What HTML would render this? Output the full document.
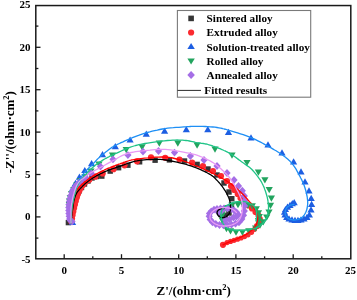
<!DOCTYPE html>
<html><head><meta charset="utf-8"><style>html,body{margin:0;padding:0;background:#fff;}svg{display:block;will-change:transform;}</style></head>
<body><svg width="357" height="300" viewBox="0 0 357 300">
<rect width="357" height="300" fill="#fff"/>
<g><rect x="65.7" y="219.9" width="5.4" height="5.4" fill="#353535"/><rect x="67.3" y="216.3" width="5.4" height="5.4" fill="#353535"/><rect x="68.3" y="212.3" width="5.4" height="5.4" fill="#353535"/><rect x="69.3" y="208.3" width="5.4" height="5.4" fill="#353535"/><rect x="70.3" y="204.3" width="5.4" height="5.4" fill="#353535"/><rect x="71.3" y="200.3" width="5.4" height="5.4" fill="#353535"/><rect x="72.8" y="196.3" width="5.4" height="5.4" fill="#353535"/><rect x="74.3" y="192.3" width="5.4" height="5.4" fill="#353535"/><rect x="76.3" y="188.3" width="5.4" height="5.4" fill="#353535"/><rect x="78.8" y="184.8" width="5.4" height="5.4" fill="#353535"/><rect x="81.8" y="181.3" width="5.4" height="5.4" fill="#353535"/><rect x="85.3" y="178.3" width="5.4" height="5.4" fill="#353535"/><rect x="89.3" y="175.3" width="5.4" height="5.4" fill="#353535"/><rect x="93.8" y="173.8" width="5.4" height="5.4" fill="#353535"/><rect x="99.1" y="173.4" width="5.4" height="5.4" fill="#353535"/><rect x="107.5" y="168.4" width="5.4" height="5.4" fill="#353535"/><rect x="115.9" y="165.0" width="5.4" height="5.4" fill="#353535"/><rect x="125.2" y="162.5" width="5.4" height="5.4" fill="#353535"/><rect x="136.9" y="159.1" width="5.4" height="5.4" fill="#353535"/><rect x="152.4" y="157.5" width="5.4" height="5.4" fill="#353535"/><rect x="166.7" y="157.2" width="5.4" height="5.4" fill="#353535"/><rect x="181.8" y="158.3" width="5.4" height="5.4" fill="#353535"/><rect x="194.4" y="161.7" width="5.4" height="5.4" fill="#353535"/><rect x="205.3" y="166.3" width="5.4" height="5.4" fill="#353535"/><rect x="214.3" y="172.3" width="5.4" height="5.4" fill="#353535"/><rect x="221.3" y="180.3" width="5.4" height="5.4" fill="#353535"/><rect x="226.3" y="189.3" width="5.4" height="5.4" fill="#353535"/><rect x="229.1" y="196.0" width="5.4" height="5.4" fill="#353535"/><rect x="228.8" y="205.3" width="5.4" height="5.4" fill="#353535"/><rect x="226.3" y="210.3" width="5.4" height="5.4" fill="#353535"/><rect x="222.3" y="212.6" width="5.4" height="5.4" fill="#353535"/><rect x="218.3" y="211.8" width="5.4" height="5.4" fill="#353535"/><circle cx="71.5" cy="222.0" r="3.1" fill="#fb2a30"/><circle cx="72.0" cy="218.5" r="3.1" fill="#fb2a30"/><circle cx="72.6" cy="215.0" r="3.1" fill="#fb2a30"/><circle cx="73.3" cy="211.5" r="3.1" fill="#fb2a30"/><circle cx="74.1" cy="208.0" r="3.1" fill="#fb2a30"/><circle cx="74.9" cy="204.5" r="3.1" fill="#fb2a30"/><circle cx="75.8" cy="201.0" r="3.1" fill="#fb2a30"/><circle cx="76.8" cy="197.5" r="3.1" fill="#fb2a30"/><circle cx="78.0" cy="194.0" r="3.1" fill="#fb2a30"/><circle cx="79.4" cy="190.8" r="3.1" fill="#fb2a30"/><circle cx="81.0" cy="187.8" r="3.1" fill="#fb2a30"/><circle cx="82.9" cy="185.0" r="3.1" fill="#fb2a30"/><circle cx="85.0" cy="182.5" r="3.1" fill="#fb2a30"/><circle cx="89.3" cy="179.8" r="3.1" fill="#fb2a30"/><circle cx="95.3" cy="176.7" r="3.1" fill="#fb2a30"/><circle cx="102.7" cy="173.5" r="3.1" fill="#fb2a30"/><circle cx="113.5" cy="169.2" r="3.1" fill="#fb2a30"/><circle cx="124.5" cy="165.3" r="3.1" fill="#fb2a30"/><circle cx="137.0" cy="161.3" r="3.1" fill="#fb2a30"/><circle cx="151.0" cy="157.3" r="3.1" fill="#fb2a30"/><circle cx="165.2" cy="157.8" r="3.1" fill="#fb2a30"/><circle cx="179.5" cy="159.5" r="3.1" fill="#fb2a30"/><circle cx="192.1" cy="162.6" r="3.1" fill="#fb2a30"/><circle cx="203.0" cy="166.0" r="3.1" fill="#fb2a30"/><circle cx="213.0" cy="171.0" r="3.1" fill="#fb2a30"/><circle cx="221.0" cy="176.0" r="3.1" fill="#fb2a30"/><circle cx="227.0" cy="181.0" r="3.1" fill="#fb2a30"/><circle cx="231.0" cy="186.0" r="3.1" fill="#fb2a30"/><circle cx="234.3" cy="190.0" r="3.1" fill="#fb2a30"/><circle cx="237.7" cy="194.0" r="3.1" fill="#fb2a30"/><circle cx="240.5" cy="198.0" r="3.1" fill="#fb2a30"/><circle cx="244.0" cy="202.0" r="3.1" fill="#fb2a30"/><circle cx="248.0" cy="205.3" r="3.1" fill="#fb2a30"/><circle cx="252.0" cy="208.5" r="3.1" fill="#fb2a30"/><circle cx="255.5" cy="212.0" r="3.1" fill="#fb2a30"/><circle cx="258.5" cy="215.5" r="3.1" fill="#fb2a30"/><circle cx="259.8" cy="219.0" r="3.1" fill="#fb2a30"/><circle cx="259.0" cy="222.5" r="3.1" fill="#fb2a30"/><circle cx="257.0" cy="226.0" r="3.1" fill="#fb2a30"/><circle cx="254.5" cy="229.3" r="2.6" fill="#fb2a30"/><circle cx="251.5" cy="232.3" r="2.6" fill="#fb2a30"/><circle cx="248.0" cy="234.8" r="2.6" fill="#fb2a30"/><circle cx="244.5" cy="236.6" r="2.6" fill="#fb2a30"/><circle cx="241.0" cy="238.0" r="2.6" fill="#fb2a30"/><circle cx="237.5" cy="239.2" r="2.6" fill="#fb2a30"/><circle cx="234.0" cy="240.3" r="2.6" fill="#fb2a30"/><circle cx="230.5" cy="241.4" r="2.6" fill="#fb2a30"/><circle cx="227.0" cy="242.6" r="2.6" fill="#fb2a30"/><circle cx="223.0" cy="244.8" r="3.1" fill="#fb2a30"/><path d="M72.6,218.9 L76.2,225.1 L69.0,225.1Z" fill="#1d5ee2"/><path d="M72.5,185.3 L76.1,191.5 L68.9,191.5Z" fill="#1d5ee2"/><path d="M75.5,179.8 L79.1,186.0 L71.9,186.0Z" fill="#1d5ee2"/><path d="M79.4,173.5 L83.0,179.7 L75.8,179.7Z" fill="#1d5ee2"/><path d="M84.8,166.9 L88.4,173.1 L81.2,173.1Z" fill="#1d5ee2"/><path d="M91.6,160.1 L95.2,166.3 L88.0,166.3Z" fill="#1d5ee2"/><path d="M102.5,151.0 L106.1,157.2 L98.9,157.2Z" fill="#1d5ee2"/><path d="M115.3,143.0 L118.9,149.2 L111.7,149.2Z" fill="#1d5ee2"/><path d="M130.1,136.4 L133.7,142.6 L126.5,142.6Z" fill="#1d5ee2"/><path d="M146.3,130.6 L149.9,136.8 L142.7,136.8Z" fill="#1d5ee2"/><path d="M164.6,127.6 L168.2,133.8 L161.0,133.8Z" fill="#1d5ee2"/><path d="M186.3,126.0 L189.9,132.2 L182.7,132.2Z" fill="#1d5ee2"/><path d="M207.8,126.0 L211.4,132.2 L204.2,132.2Z" fill="#1d5ee2"/><path d="M228.5,128.7 L232.1,134.9 L224.9,134.9Z" fill="#1d5ee2"/><path d="M251.0,134.3 L254.6,140.5 L247.4,140.5Z" fill="#1d5ee2"/><path d="M268.0,141.3 L271.6,147.5 L264.4,147.5Z" fill="#1d5ee2"/><path d="M282.0,149.3 L285.6,155.5 L278.4,155.5Z" fill="#1d5ee2"/><path d="M293.6,158.3 L297.2,164.5 L290.0,164.5Z" fill="#1d5ee2"/><path d="M301.0,168.3 L304.6,174.5 L297.4,174.5Z" fill="#1d5ee2"/><path d="M305.0,178.3 L308.6,184.5 L301.4,184.5Z" fill="#1d5ee2"/><path d="M309.0,187.3 L312.6,193.5 L305.4,193.5Z" fill="#1d5ee2"/><path d="M311.2,194.8 L314.8,201.0 L307.6,201.0Z" fill="#1d5ee2"/><path d="M311.6,200.8 L315.2,207.0 L308.0,207.0Z" fill="#1d5ee2"/><path d="M311.0,206.3 L314.6,212.5 L307.4,212.5Z" fill="#1d5ee2"/><path d="M309.4,211.3 L313.0,217.5 L305.8,217.5Z" fill="#1d5ee2"/><path d="M307.0,213.8 L310.6,220.0 L303.4,220.0Z" fill="#1d5ee2"/><path d="M304.0,215.3 L307.6,221.5 L300.4,221.5Z" fill="#1d5ee2"/><path d="M301.0,216.3 L304.6,222.5 L297.4,222.5Z" fill="#1d5ee2"/><path d="M298.0,216.8 L301.6,223.0 L294.4,223.0Z" fill="#1d5ee2"/><path d="M295.0,216.8 L298.6,223.0 L291.4,223.0Z" fill="#1d5ee2"/><path d="M292.0,216.3 L295.6,222.5 L288.4,222.5Z" fill="#1d5ee2"/><path d="M289.0,215.3 L292.6,221.5 L285.4,221.5Z" fill="#1d5ee2"/><path d="M286.7,213.8 L290.3,220.0 L283.1,220.0Z" fill="#1d5ee2"/><path d="M285.0,211.3 L288.6,217.5 L281.4,217.5Z" fill="#1d5ee2"/><path d="M284.5,208.6 L288.1,214.8 L280.9,214.8Z" fill="#1d5ee2"/><path d="M285.5,205.9 L289.1,212.1 L281.9,212.1Z" fill="#1d5ee2"/><path d="M287.5,203.6 L291.1,209.8 L283.9,209.8Z" fill="#1d5ee2"/><path d="M290.0,201.8 L293.6,208.0 L286.4,208.0Z" fill="#1d5ee2"/><path d="M292.3,200.1 L295.9,206.3 L288.7,206.3Z" fill="#1d5ee2"/><path d="M294.2,199.1 L297.8,205.3 L290.6,205.3Z" fill="#1d5ee2"/><path d="M70.0,215.7 L73.6,209.5 L66.4,209.5Z" fill="#22a45e"/><path d="M69.5,211.7 L73.1,205.5 L65.9,205.5Z" fill="#22a45e"/><path d="M69.3,208.2 L72.9,202.0 L65.7,202.0Z" fill="#22a45e"/><path d="M69.5,204.7 L73.1,198.5 L65.9,198.5Z" fill="#22a45e"/><path d="M70.2,201.2 L73.8,195.0 L66.6,195.0Z" fill="#22a45e"/><path d="M71.6,197.2 L75.2,191.0 L68.0,191.0Z" fill="#22a45e"/><path d="M73.8,193.2 L77.4,187.0 L70.2,187.0Z" fill="#22a45e"/><path d="M76.8,188.7 L80.4,182.5 L73.2,182.5Z" fill="#22a45e"/><path d="M80.5,184.2 L84.1,178.0 L76.9,178.0Z" fill="#22a45e"/><path d="M85.0,180.2 L88.6,174.0 L81.4,174.0Z" fill="#22a45e"/><path d="M91.0,174.7 L94.6,168.5 L87.4,168.5Z" fill="#22a45e"/><path d="M99.0,167.7 L102.6,161.5 L95.4,161.5Z" fill="#22a45e"/><path d="M112.5,158.7 L116.1,152.5 L108.9,152.5Z" fill="#22a45e"/><path d="M126.2,153.2 L129.8,147.0 L122.6,147.0Z" fill="#22a45e"/><path d="M142.1,150.4 L145.7,144.2 L138.5,144.2Z" fill="#22a45e"/><path d="M159.3,146.8 L162.9,140.6 L155.7,140.6Z" fill="#22a45e"/><path d="M177.8,146.8 L181.4,140.6 L174.2,140.6Z" fill="#22a45e"/><path d="M197.1,148.8 L200.7,142.6 L193.5,142.6Z" fill="#22a45e"/><path d="M215.0,152.7 L218.6,146.5 L211.4,146.5Z" fill="#22a45e"/><path d="M232.0,158.7 L235.6,152.5 L228.4,152.5Z" fill="#22a45e"/><path d="M247.0,166.1 L250.6,159.9 L243.4,159.9Z" fill="#22a45e"/><path d="M258.4,175.7 L262.0,169.5 L254.8,169.5Z" fill="#22a45e"/><path d="M264.9,183.4 L268.5,177.2 L261.3,177.2Z" fill="#22a45e"/><path d="M269.2,193.2 L272.8,187.0 L265.6,187.0Z" fill="#22a45e"/><path d="M271.4,201.7 L275.0,195.5 L267.8,195.5Z" fill="#22a45e"/><path d="M270.5,209.0 L274.1,202.8 L266.9,202.8Z" fill="#22a45e"/><path d="M269.0,215.7 L272.6,209.5 L265.4,209.5Z" fill="#22a45e"/><path d="M266.7,220.7 L270.3,214.5 L263.1,214.5Z" fill="#22a45e"/><path d="M263.3,225.4 L266.9,219.2 L259.7,219.2Z" fill="#22a45e"/><path d="M260.0,228.7 L263.6,222.5 L256.4,222.5Z" fill="#22a45e"/><path d="M255.6,231.7 L259.2,225.5 L252.0,225.5Z" fill="#22a45e"/><path d="M248.8,234.4 L252.4,228.2 L245.2,228.2Z" fill="#22a45e"/><path d="M242.4,235.7 L246.0,229.5 L238.8,229.5Z" fill="#22a45e"/><path d="M236.0,235.7 L239.6,229.5 L232.4,229.5Z" fill="#22a45e"/><path d="M230.5,234.4 L234.1,228.2 L226.9,228.2Z" fill="#22a45e"/><path d="M226.5,232.2 L230.1,226.0 L222.9,226.0Z" fill="#22a45e"/><path d="M224.0,228.7 L227.6,222.5 L220.4,222.5Z" fill="#22a45e"/><path d="M222.5,224.2 L226.1,218.0 L218.9,218.0Z" fill="#22a45e"/><path d="M222.0,219.2 L225.6,213.0 L218.4,213.0Z" fill="#22a45e"/><path d="M223.5,214.7 L227.1,208.5 L219.9,208.5Z" fill="#22a45e"/><path d="M227.0,211.2 L230.6,205.0 L223.4,205.0Z" fill="#22a45e"/><path d="M232.0,208.7 L235.6,202.5 L228.4,202.5Z" fill="#22a45e"/><path d="M238.0,208.2 L241.6,202.0 L234.4,202.0Z" fill="#22a45e"/><path d="M243.0,208.2 L246.6,202.0 L239.4,202.0Z" fill="#22a45e"/><path d="M248.0,208.7 L251.6,202.5 L244.4,202.5Z" fill="#22a45e"/><path d="M252.3,209.5 L255.9,203.3 L248.7,203.3Z" fill="#22a45e"/><path d="M256.3,212.4 L259.9,206.2 L252.7,206.2Z" fill="#22a45e"/><path d="M258.5,216.4 L262.1,210.2 L254.9,210.2Z" fill="#22a45e"/><path d="M259.3,220.2 L262.9,214.0 L255.7,214.0Z" fill="#22a45e"/><path d="M258.5,224.2 L262.1,218.0 L254.9,218.0Z" fill="#22a45e"/><path d="M72.0,217.7 L75.6,221.6 L72.0,225.5 L68.4,221.6Z" fill="#a56ee6"/><path d="M70.3,216.6 L73.9,220.5 L70.3,224.4 L66.7,220.5Z" fill="#a56ee6"/><path d="M69.7,215.1 L73.3,219.0 L69.7,222.9 L66.1,219.0Z" fill="#a56ee6"/><path d="M69.2,212.4 L72.8,216.3 L69.2,220.2 L65.6,216.3Z" fill="#a56ee6"/><path d="M68.9,209.6 L72.5,213.5 L68.9,217.4 L65.3,213.5Z" fill="#a56ee6"/><path d="M68.8,206.6 L72.4,210.5 L68.8,214.4 L65.2,210.5Z" fill="#a56ee6"/><path d="M68.8,203.6 L72.4,207.5 L68.8,211.4 L65.2,207.5Z" fill="#a56ee6"/><path d="M69.0,200.6 L72.6,204.5 L69.0,208.4 L65.4,204.5Z" fill="#a56ee6"/><path d="M69.4,197.6 L73.0,201.5 L69.4,205.4 L65.8,201.5Z" fill="#a56ee6"/><path d="M70.0,194.6 L73.6,198.5 L70.0,202.4 L66.4,198.5Z" fill="#a56ee6"/><path d="M70.8,191.6 L74.4,195.5 L70.8,199.4 L67.2,195.5Z" fill="#a56ee6"/><path d="M71.9,188.6 L75.5,192.5 L71.9,196.4 L68.3,192.5Z" fill="#a56ee6"/><path d="M73.3,185.8 L76.9,189.7 L73.3,193.6 L69.7,189.7Z" fill="#a56ee6"/><path d="M75.0,183.1 L78.6,187.0 L75.0,190.9 L71.4,187.0Z" fill="#a56ee6"/><path d="M77.0,180.6 L80.6,184.5 L77.0,188.4 L73.4,184.5Z" fill="#a56ee6"/><path d="M79.2,178.3 L82.8,182.2 L79.2,186.1 L75.6,182.2Z" fill="#a56ee6"/><path d="M82.0,175.9 L85.6,179.8 L82.0,183.7 L78.4,179.8Z" fill="#a56ee6"/><path d="M85.6,173.7 L89.2,177.6 L85.6,181.5 L82.0,177.6Z" fill="#a56ee6"/><path d="M91.2,169.3 L94.8,173.2 L91.2,177.1 L87.6,173.2Z" fill="#a56ee6"/><path d="M100.5,162.7 L104.1,166.6 L100.5,170.5 L96.9,166.6Z" fill="#a56ee6"/><path d="M113.0,155.4 L116.6,159.3 L113.0,163.2 L109.4,159.3Z" fill="#a56ee6"/><path d="M127.9,151.2 L131.5,155.1 L127.9,159.0 L124.3,155.1Z" fill="#a56ee6"/><path d="M143.0,147.7 L146.6,151.6 L143.0,155.5 L139.4,151.6Z" fill="#a56ee6"/><path d="M158.5,147.1 L162.1,151.0 L158.5,154.9 L154.9,151.0Z" fill="#a56ee6"/><path d="M174.5,148.7 L178.1,152.6 L174.5,156.5 L170.9,152.6Z" fill="#a56ee6"/><path d="M190.4,152.1 L194.0,156.0 L190.4,159.9 L186.8,156.0Z" fill="#a56ee6"/><path d="M204.0,156.1 L207.6,160.0 L204.0,163.9 L200.4,160.0Z" fill="#a56ee6"/><path d="M217.0,162.1 L220.6,166.0 L217.0,169.9 L213.4,166.0Z" fill="#a56ee6"/><path d="M227.0,169.1 L230.6,173.0 L227.0,176.9 L223.4,173.0Z" fill="#a56ee6"/><path d="M234.0,176.1 L237.6,180.0 L234.0,183.9 L230.4,180.0Z" fill="#a56ee6"/><path d="M238.5,182.1 L242.1,186.0 L238.5,189.9 L234.9,186.0Z" fill="#a56ee6"/><path d="M242.3,186.8 L245.9,190.7 L242.3,194.6 L238.7,190.7Z" fill="#a56ee6"/><path d="M244.3,192.1 L247.9,196.0 L244.3,199.9 L240.7,196.0Z" fill="#a56ee6"/><path d="M244.6,197.1 L248.2,201.0 L244.6,204.9 L241.0,201.0Z" fill="#a56ee6"/><path d="M244.6,202.1 L248.2,206.0 L244.6,209.9 L241.0,206.0Z" fill="#a56ee6"/><path d="M244.3,207.1 L247.9,211.0 L244.3,214.9 L240.7,211.0Z" fill="#a56ee6"/><path d="M243.5,211.4 L247.1,215.3 L243.5,219.2 L239.9,215.3Z" fill="#a56ee6"/><path d="M241.8,215.1 L245.4,219.0 L241.8,222.9 L238.2,219.0Z" fill="#a56ee6"/><path d="M239.0,218.4 L242.6,222.3 L239.0,226.2 L235.4,222.3Z" fill="#a56ee6"/><path d="M235.5,219.8 L239.1,223.7 L235.5,227.6 L231.9,223.7Z" fill="#a56ee6"/><path d="M231.5,220.8 L235.1,224.7 L231.5,228.6 L227.9,224.7Z" fill="#a56ee6"/><path d="M227.5,221.3 L231.1,225.2 L227.5,229.1 L223.9,225.2Z" fill="#a56ee6"/><path d="M223.5,221.4 L227.1,225.3 L223.5,229.2 L219.9,225.3Z" fill="#a56ee6"/><path d="M219.5,221.1 L223.1,225.0 L219.5,228.9 L215.9,225.0Z" fill="#a56ee6"/><path d="M215.8,220.1 L219.4,224.0 L215.8,227.9 L212.2,224.0Z" fill="#a56ee6"/><path d="M212.5,218.4 L216.1,222.3 L212.5,226.2 L208.9,222.3Z" fill="#a56ee6"/><path d="M210.2,215.7 L213.8,219.6 L210.2,223.5 L206.6,219.6Z" fill="#a56ee6"/><path d="M209.2,212.4 L212.8,216.3 L209.2,220.2 L205.6,216.3Z" fill="#a56ee6"/><path d="M209.5,209.6 L213.1,213.5 L209.5,217.4 L205.9,213.5Z" fill="#a56ee6"/><path d="M211.3,207.4 L214.9,211.3 L211.3,215.2 L207.7,211.3Z" fill="#a56ee6"/><path d="M214.0,205.8 L217.6,209.7 L214.0,213.6 L210.4,209.7Z" fill="#a56ee6"/><path d="M217.0,205.1 L220.6,209.0 L217.0,212.9 L213.4,209.0Z" fill="#a56ee6"/><path d="M220.5,204.6 L224.1,208.5 L220.5,212.4 L216.9,208.5Z" fill="#a56ee6"/><path d="M224.0,204.4 L227.6,208.3 L224.0,212.2 L220.4,208.3Z" fill="#a56ee6"/><path d="M227.5,204.5 L231.1,208.4 L227.5,212.3 L223.9,208.4Z" fill="#a56ee6"/><path d="M231.0,205.1 L234.6,209.0 L231.0,212.9 L227.4,209.0Z" fill="#a56ee6"/><path d="M234.0,206.4 L237.6,210.3 L234.0,214.2 L230.4,210.3Z" fill="#a56ee6"/><path d="M236.5,208.4 L240.1,212.3 L236.5,216.2 L232.9,212.3Z" fill="#a56ee6"/><path d="M238.0,210.6 L241.6,214.5 L238.0,218.4 L234.4,214.5Z" fill="#a56ee6"/><path d="M236.5,212.6 L240.1,216.5 L236.5,220.4 L232.9,216.5Z" fill="#a56ee6"/><path d="M233.5,213.6 L237.1,217.5 L233.5,221.4 L229.9,217.5Z" fill="#a56ee6"/><path d="M229.5,215.4 L233.1,219.3 L229.5,223.2 L225.9,219.3Z" fill="#a56ee6"/><path d="M225.5,216.1 L229.1,220.0 L225.5,223.9 L221.9,220.0Z" fill="#a56ee6"/><path d="M218.5,208.6 L222.1,212.5 L218.5,216.4 L214.9,212.5Z" fill="#a56ee6"/><path d="M221.5,206.9 L225.1,210.8 L221.5,214.7 L217.9,210.8Z" fill="#a56ee6"/></g>
<g><path d="M71.0,223.0 L71.1,222.3 L71.2,221.3 L71.3,220.2 L71.4,218.9 L71.6,217.6 L71.7,216.3 L71.9,215.1 L72.0,214.0 L72.1,213.0 L72.3,212.1 L72.4,211.2 L72.5,210.3 L72.6,209.5 L72.8,208.6 L72.9,207.8 L73.0,207.0 L73.1,206.2 L73.2,205.4 L73.3,204.6 L73.4,203.9 L73.5,203.1 L73.6,202.4 L73.7,201.7 L73.8,201.0 L74.0,200.3 L74.1,199.7 L74.3,199.0 L74.5,198.4 L74.7,197.8 L74.9,197.2 L75.1,196.6 L75.3,196.0 L75.5,195.4 L75.7,194.9 L76.0,194.4 L76.2,193.9 L76.5,193.4 L76.7,192.9 L77.0,192.5 L77.3,192.0 L77.6,191.6 L77.9,191.2 L78.2,190.9 L78.5,190.5 L78.8,190.2 L79.1,189.8 L79.5,189.4 L80.0,188.9 L80.5,188.4 L81.1,187.7 L81.7,187.1 L82.4,186.4 L83.0,185.7 L83.7,185.0 L84.4,184.4 L85.0,183.8 L85.6,183.3 L86.2,182.7 L86.9,182.2 L87.5,181.7 L88.1,181.3 L88.8,180.8 L89.4,180.3 L90.0,179.9 L90.6,179.5 L91.2,179.0 L91.9,178.6 L92.5,178.2 L93.1,177.8 L93.8,177.4 L94.4,177.1 L95.0,176.7 L95.6,176.3 L96.2,176.0 L96.9,175.6 L97.5,175.3 L98.1,175.0 L98.8,174.6 L99.4,174.3 L100.0,174.0 L100.6,173.7 L101.2,173.4 L101.9,173.1 L102.5,172.8 L103.1,172.5 L103.8,172.2 L104.4,171.9 L105.0,171.6 L105.6,171.3 L106.1,171.1 L106.7,170.9 L107.2,170.7 L107.8,170.4 L108.4,170.2 L109.1,169.9 L110.0,169.6 L111.0,169.3 L112.1,168.9 L113.4,168.5 L114.7,168.1 L116.0,167.6 L117.4,167.2 L118.7,166.7 L120.0,166.3 L121.2,165.9 L122.5,165.4 L123.8,164.9 L125.0,164.4 L126.2,164.0 L127.5,163.5 L128.8,163.1 L130.0,162.7 L131.2,162.3 L132.3,162.0 L133.3,161.7 L134.4,161.4 L135.5,161.1 L136.8,160.9 L138.3,160.6 L140.0,160.4 L142.0,160.2 L144.3,159.9 L146.8,159.7 L149.4,159.5 L152.1,159.4 L154.8,159.3 L157.5,159.3 L160.2,159.4 L162.9,159.7 L165.7,160.0 L168.6,160.5 L171.4,161.0 L174.3,161.6 L177.0,162.2 L179.6,162.8 L182.0,163.4 L184.2,163.9 L186.3,164.5 L188.2,165.1 L190.0,165.6 L191.7,166.2 L193.5,166.8 L195.2,167.5 L197.0,168.2 L198.8,168.9 L200.7,169.7 L202.6,170.6 L204.4,171.4 L206.2,172.3 L207.9,173.2 L209.5,174.1 L211.0,175.0 L212.3,175.9 L213.5,176.8 L214.5,177.8 L215.5,178.7 L216.4,179.7 L217.3,180.6 L218.2,181.6 L219.0,182.5 L219.8,183.4 L220.6,184.4 L221.3,185.3 L222.0,186.2 L222.7,187.1 L223.3,188.0 L223.9,188.9 L224.5,189.8 L225.1,190.7 L225.6,191.5 L226.1,192.4 L226.6,193.2 L227.0,194.0 L227.4,194.9 L227.8,195.7 L228.2,196.5 L228.5,197.3 L228.9,198.1 L229.2,198.9 L229.4,199.7 L229.7,200.5 L229.9,201.3 L230.0,202.2 L230.2,203.0 L230.3,203.9 L230.4,204.8 L230.5,205.7 L230.5,206.6 L230.6,207.5 L230.5,208.4 L230.5,209.2 L230.4,210.0 L230.3,210.7 L230.1,211.3 L229.9,211.9 L229.7,212.5 L229.4,213.1 L229.1,213.6 L228.8,214.0 L228.5,214.5 L228.1,214.9 L227.7,215.4 L227.3,215.7 L226.9,216.1 L226.4,216.4 L225.9,216.7 L225.5,217.0 L225.0,217.2 L224.5,217.4 L224.0,217.5 L223.5,217.6 L223.0,217.7 L222.5,217.7 L222.0,217.7 L221.5,217.6 L221.0,217.5 L220.5,217.3 L220.1,217.1 L219.6,216.8 L219.2,216.5 L218.8,216.1 L218.4,215.7 L218.1,215.4 L217.8,215.0 L217.6,214.6 L217.4,214.2 L217.2,213.8 L217.1,213.4 L217.1,213.0 L217.1,212.6 L217.1,212.2 L217.2,211.8 L217.4,211.4 L217.6,211.1 L217.9,210.7 L218.2,210.3 L218.6,210.0 L219.0,209.7 L219.4,209.4 L219.8,209.2 L220.3,209.0 L220.8,208.9 L221.4,208.8 L222.1,208.7 L222.7,208.6 L223.2,208.6 L223.7,208.5 L224.0,208.5" fill="none" stroke="#000000" stroke-width="1.3" stroke-linejoin="round" stroke-linecap="round"/><path d="M71.0,223.0 L71.1,222.3 L71.1,221.3 L71.2,220.2 L71.3,218.9 L71.4,217.6 L71.5,216.3 L71.6,215.1 L71.7,214.0 L71.8,213.0 L71.9,212.1 L72.0,211.2 L72.1,210.3 L72.1,209.5 L72.2,208.6 L72.3,207.8 L72.4,207.0 L72.5,206.2 L72.6,205.4 L72.6,204.7 L72.7,203.9 L72.8,203.2 L72.9,202.5 L73.0,201.7 L73.1,201.0 L73.2,200.2 L73.4,199.5 L73.5,198.7 L73.7,197.9 L73.8,197.1 L74.0,196.4 L74.2,195.7 L74.4,195.0 L74.6,194.4 L74.8,193.8 L75.1,193.2 L75.3,192.6 L75.6,192.1 L75.9,191.5 L76.2,191.0 L76.5,190.5 L76.8,190.0 L77.1,189.6 L77.4,189.1 L77.8,188.7 L78.2,188.3 L78.6,187.8 L79.0,187.3 L79.5,186.8 L80.1,186.2 L80.7,185.6 L81.4,184.9 L82.1,184.3 L82.9,183.6 L83.6,182.9 L84.3,182.3 L85.0,181.7 L85.6,181.2 L86.3,180.7 L86.9,180.2 L87.5,179.7 L88.1,179.3 L88.8,178.9 L89.4,178.4 L90.0,178.0 L90.6,177.6 L91.2,177.2 L91.9,176.7 L92.5,176.3 L93.1,175.9 L93.8,175.6 L94.4,175.2 L95.0,174.8 L95.6,174.4 L96.2,174.1 L96.9,173.7 L97.5,173.4 L98.1,173.1 L98.8,172.7 L99.4,172.4 L100.0,172.1 L100.6,171.8 L101.2,171.5 L101.9,171.2 L102.5,170.9 L103.1,170.6 L103.8,170.3 L104.4,170.0 L105.0,169.7 L105.6,169.4 L106.1,169.2 L106.7,168.9 L107.2,168.7 L107.8,168.4 L108.4,168.2 L109.1,167.8 L110.0,167.5 L111.0,167.1 L112.2,166.7 L113.5,166.2 L114.9,165.7 L116.2,165.2 L117.6,164.7 L118.9,164.2 L120.0,163.8 L121.0,163.4 L121.9,163.1 L122.8,162.8 L123.6,162.4 L124.4,162.1 L125.2,161.9 L126.1,161.6 L127.0,161.3 L127.9,161.0 L128.6,160.8 L129.3,160.5 L130.0,160.3 L130.9,160.1 L132.0,159.8 L133.5,159.6 L135.4,159.3 L137.9,159.0 L141.0,158.6 L144.4,158.2 L148.1,157.9 L151.8,157.5 L155.4,157.2 L158.8,157.1 L161.8,157.0 L164.4,157.1 L166.7,157.2 L168.8,157.4 L170.8,157.7 L172.7,158.0 L174.6,158.5 L176.6,159.0 L178.7,159.5 L180.9,160.1 L183.2,160.8 L185.5,161.6 L187.8,162.5 L190.1,163.4 L192.4,164.3 L194.7,165.3 L197.0,166.2 L199.3,167.2 L201.6,168.2 L203.9,169.2 L206.3,170.3 L208.6,171.3 L210.8,172.4 L212.9,173.5 L215.0,174.5 L217.0,175.5 L218.9,176.5 L220.7,177.5 L222.4,178.5 L224.1,179.4 L225.8,180.4 L227.4,181.5 L229.0,182.5 L230.5,183.6 L232.0,184.7 L233.5,185.8 L234.9,187.0 L236.2,188.1 L237.5,189.3 L238.8,190.4 L240.0,191.5 L241.2,192.6 L242.3,193.7 L243.4,194.8 L244.4,195.9 L245.4,197.0 L246.3,198.0 L247.2,199.0 L248.0,200.0 L248.8,200.9 L249.5,201.8 L250.2,202.6 L250.8,203.4 L251.4,204.2 L251.9,205.0 L252.5,205.7 L253.0,206.5 L253.5,207.3 L254.0,208.0 L254.5,208.8 L255.0,209.6 L255.4,210.3 L255.8,211.0 L256.2,211.8 L256.5,212.5 L256.8,213.2 L257.0,213.9 L257.2,214.6 L257.4,215.2 L257.5,215.9 L257.6,216.6 L257.7,217.3 L257.7,218.0 L257.7,218.7 L257.6,219.5 L257.5,220.3 L257.4,221.0 L257.2,221.8 L257.0,222.6 L256.8,223.3 L256.5,224.0 L256.2,224.7 L255.9,225.3 L255.5,225.9 L255.1,226.5 L254.7,227.1 L254.2,227.7 L253.6,228.4 L253.0,229.0 L252.3,229.7 L251.5,230.4 L250.7,231.1 L249.8,231.8 L248.9,232.5 L248.0,233.2 L247.0,233.9 L246.0,234.5 L245.0,235.1 L243.9,235.7 L242.8,236.2 L241.6,236.8 L240.5,237.3 L239.3,237.8 L238.1,238.3 L237.0,238.8 L235.8,239.3 L234.7,239.8 L233.4,240.3 L232.2,240.8 L231.1,241.2 L230.0,241.7 L228.9,242.1 L228.0,242.5 L227.1,242.9 L226.4,243.2 L225.6,243.6 L224.9,243.9 L224.3,244.2 L223.8,244.4 L223.4,244.6 L223.0,244.8" fill="none" stroke="#ff0000" stroke-width="1.3" stroke-linejoin="round" stroke-linecap="round"/><path d="M71.0,223.0 L71.0,222.1 L71.1,220.9 L71.1,219.5 L71.2,217.9 L71.2,216.2 L71.3,214.7 L71.3,213.2 L71.4,212.0 L71.5,211.0 L71.5,210.2 L71.5,209.6 L71.6,208.9 L71.7,208.3 L71.7,207.7 L71.9,206.9 L72.0,206.0 L72.2,204.9 L72.4,203.8 L72.6,202.5 L72.9,201.2 L73.2,199.9 L73.4,198.6 L73.7,197.3 L74.0,196.0 L74.3,194.8 L74.6,193.5 L74.9,192.2 L75.2,190.9 L75.6,189.7 L75.9,188.5 L76.2,187.5 L76.5,186.5 L76.8,185.7 L77.1,184.9 L77.3,184.3 L77.6,183.7 L77.8,183.2 L78.1,182.7 L78.4,182.1 L78.7,181.5 L79.0,180.9 L79.4,180.2 L79.7,179.5 L80.1,178.9 L80.5,178.2 L80.9,177.6 L81.3,176.9 L81.7,176.3 L82.1,175.7 L82.5,175.1 L83.0,174.5 L83.4,174.0 L83.8,173.4 L84.3,172.9 L84.7,172.3 L85.2,171.8 L85.7,171.3 L86.1,170.7 L86.6,170.2 L87.1,169.7 L87.6,169.2 L88.1,168.7 L88.5,168.3 L89.0,167.8 L89.4,167.4 L89.8,167.0 L90.2,166.6 L90.6,166.3 L91.1,165.9 L91.5,165.5 L92.0,165.0 L92.5,164.5 L93.1,163.9 L93.7,163.2 L94.4,162.4 L95.1,161.7 L95.8,160.9 L96.5,160.1 L97.3,159.3 L98.0,158.6 L98.7,157.9 L99.5,157.2 L100.2,156.6 L101.0,155.9 L101.7,155.3 L102.5,154.6 L103.2,154.0 L104.0,153.4 L104.8,152.8 L105.5,152.2 L106.3,151.6 L107.1,151.0 L107.8,150.4 L108.6,149.8 L109.3,149.3 L110.0,148.8 L110.6,148.4 L111.1,148.0 L111.6,147.6 L112.0,147.3 L112.5,147.0 L113.2,146.6 L114.0,146.1 L115.0,145.6 L116.3,145.0 L117.8,144.2 L119.4,143.5 L121.1,142.6 L123.0,141.8 L124.9,140.9 L126.8,140.1 L128.7,139.3 L130.6,138.5 L132.5,137.7 L134.5,136.9 L136.5,136.1 L138.5,135.4 L140.6,134.6 L142.8,133.9 L145.0,133.2 L147.3,132.5 L149.7,131.9 L152.2,131.2 L154.7,130.6 L157.3,130.1 L159.8,129.5 L162.4,129.0 L165.0,128.6 L167.7,128.2 L170.4,127.9 L173.3,127.7 L176.1,127.4 L178.9,127.3 L181.5,127.1 L183.9,126.9 L186.0,126.8 L187.7,126.7 L189.1,126.6 L190.2,126.5 L191.1,126.4 L192.1,126.3 L193.1,126.3 L194.4,126.3 L196.0,126.3 L198.0,126.3 L200.2,126.4 L202.6,126.4 L205.2,126.5 L207.8,126.6 L210.3,126.8 L212.8,127.0 L215.0,127.2 L217.0,127.5 L218.9,127.8 L220.7,128.1 L222.4,128.5 L224.1,129.0 L225.9,129.4 L227.9,130.0 L230.0,130.6 L232.4,131.3 L234.9,132.1 L237.6,132.9 L240.4,133.8 L243.2,134.7 L245.9,135.7 L248.5,136.6 L251.0,137.6 L253.4,138.6 L255.6,139.7 L257.9,140.8 L260.1,141.9 L262.2,143.0 L264.2,144.1 L266.1,145.2 L268.0,146.2 L269.8,147.2 L271.5,148.1 L273.1,149.1 L274.6,150.0 L276.1,150.8 L277.5,151.7 L278.8,152.5 L280.0,153.3 L281.1,154.1 L282.2,154.8 L283.1,155.5 L284.0,156.1 L284.8,156.7 L285.6,157.3 L286.3,157.9 L287.0,158.5 L287.6,159.0 L288.2,159.5 L288.7,160.0 L289.2,160.4 L289.6,160.8 L290.1,161.3 L290.5,161.8 L291.0,162.3 L291.5,162.9 L292.0,163.5 L292.5,164.1 L293.0,164.8 L293.6,165.4 L294.0,166.1 L294.5,166.8 L295.0,167.5 L295.4,168.2 L295.9,168.9 L296.3,169.6 L296.7,170.4 L297.1,171.1 L297.5,171.9 L297.9,172.7 L298.3,173.5 L298.7,174.3 L299.2,175.2 L299.7,176.0 L300.2,176.9 L300.6,177.8 L301.1,178.7 L301.6,179.6 L302.0,180.5 L302.4,181.4 L302.8,182.3 L303.2,183.3 L303.6,184.2 L304.0,185.1 L304.3,186.1 L304.7,187.0 L305.0,188.0 L305.3,189.0 L305.6,190.0 L305.9,191.0 L306.1,192.0 L306.4,193.1 L306.6,194.1 L306.8,195.0 L307.0,196.0 L307.2,196.9 L307.3,197.8 L307.4,198.7 L307.5,199.6 L307.6,200.5 L307.7,201.3 L307.7,202.2 L307.7,203.0 L307.7,203.8 L307.6,204.7 L307.5,205.5 L307.4,206.4 L307.3,207.2 L307.2,208.0 L307.0,208.8 L306.8,209.5 L306.6,210.2 L306.4,210.9 L306.1,211.5 L305.8,212.2 L305.5,212.8 L305.2,213.4 L304.9,213.9 L304.5,214.5 L304.1,215.1 L303.7,215.6 L303.3,216.1 L302.8,216.7 L302.3,217.2 L301.8,217.6 L301.2,218.0 L300.6,218.4 L299.9,218.7 L299.1,219.0 L298.3,219.3 L297.4,219.6 L296.5,219.7 L295.7,219.9 L294.8,220.0 L294.0,220.0 L293.2,220.0 L292.4,219.9 L291.6,219.7 L290.8,219.5 L290.0,219.3 L289.3,219.0 L288.6,218.7 L288.0,218.3 L287.5,217.9 L287.0,217.3 L286.5,216.8 L286.1,216.1 L285.8,215.5 L285.5,214.8 L285.3,214.2 L285.2,213.5 L285.1,212.8 L285.2,212.1 L285.3,211.4 L285.4,210.6 L285.6,209.9 L285.9,209.2 L286.2,208.6 L286.5,208.0 L286.9,207.5 L287.3,207.1 L287.7,206.7 L288.2,206.3 L288.8,206.0 L289.3,205.7 L289.8,205.4 L290.3,205.2 L290.8,205.0 L291.3,204.9 L291.9,204.8 L292.4,204.7 L292.9,204.6 L293.3,204.6 L293.7,204.5 L294.0,204.5" fill="none" stroke="#1e8ff5" stroke-width="1.3" stroke-linejoin="round" stroke-linecap="round"/><path d="M71.0,223.0 L71.0,222.1 L71.1,220.9 L71.2,219.5 L71.3,217.9 L71.3,216.2 L71.4,214.7 L71.5,213.2 L71.6,212.0 L71.7,211.0 L71.7,210.2 L71.8,209.6 L71.9,208.9 L71.9,208.3 L72.0,207.7 L72.1,206.9 L72.3,206.0 L72.5,204.9 L72.7,203.8 L72.9,202.5 L73.2,201.2 L73.4,199.9 L73.7,198.6 L74.0,197.3 L74.3,196.0 L74.6,194.8 L75.0,193.5 L75.4,192.2 L75.8,190.9 L76.2,189.7 L76.5,188.5 L76.9,187.5 L77.3,186.5 L77.6,185.7 L78.0,184.9 L78.3,184.3 L78.6,183.7 L78.9,183.1 L79.3,182.6 L79.6,182.1 L80.0,181.5 L80.4,180.9 L80.8,180.3 L81.2,179.8 L81.7,179.2 L82.1,178.7 L82.6,178.1 L83.0,177.5 L83.5,177.0 L84.0,176.4 L84.4,175.9 L84.9,175.3 L85.4,174.8 L85.9,174.3 L86.3,173.7 L86.8,173.2 L87.3,172.7 L87.8,172.2 L88.2,171.7 L88.7,171.3 L89.1,170.8 L89.6,170.3 L90.1,169.9 L90.5,169.4 L91.0,169.0 L91.5,168.5 L92.0,168.1 L92.5,167.7 L93.0,167.2 L93.5,166.8 L94.0,166.3 L94.5,165.9 L95.0,165.5 L95.5,165.1 L95.9,164.7 L96.4,164.4 L96.8,164.0 L97.3,163.7 L97.8,163.3 L98.4,162.9 L99.0,162.5 L99.7,162.0 L100.5,161.5 L101.4,161.0 L102.3,160.4 L103.2,159.9 L104.2,159.3 L105.1,158.8 L106.0,158.3 L106.8,157.9 L107.5,157.5 L108.2,157.1 L108.9,156.8 L109.6,156.4 L110.5,155.9 L111.6,155.4 L113.0,154.8 L114.7,154.0 L116.7,153.1 L118.9,152.1 L121.2,151.0 L123.6,149.9 L126.0,148.9 L128.3,148.0 L130.4,147.2 L132.3,146.5 L134.0,146.0 L135.6,145.5 L137.2,145.1 L138.9,144.7 L140.7,144.3 L142.7,143.9 L145.0,143.5 L147.7,143.1 L150.8,142.6 L154.1,142.1 L157.6,141.7 L161.0,141.2 L164.4,140.8 L167.5,140.5 L170.3,140.3 L172.7,140.1 L175.0,140.1 L177.1,140.0 L179.0,140.1 L180.8,140.1 L182.6,140.2 L184.3,140.4 L186.0,140.5 L187.7,140.7 L189.4,141.0 L190.9,141.3 L192.5,141.6 L194.0,141.9 L195.4,142.3 L196.7,142.6 L198.0,142.8 L199.2,143.0 L200.3,143.1 L201.3,143.3 L202.2,143.4 L203.2,143.5 L204.1,143.6 L205.0,143.8 L206.0,144.0 L207.0,144.2 L208.0,144.5 L209.0,144.8 L210.0,145.1 L211.0,145.4 L212.0,145.7 L213.0,146.1 L214.0,146.4 L215.0,146.8 L216.0,147.1 L217.0,147.5 L218.0,147.9 L219.0,148.3 L220.0,148.7 L221.0,149.2 L222.0,149.6 L223.0,150.0 L224.0,150.5 L225.0,150.9 L226.0,151.4 L226.9,151.8 L228.0,152.4 L229.0,152.9 L230.0,153.5 L231.1,154.2 L232.2,154.9 L233.3,155.7 L234.5,156.5 L235.6,157.3 L236.7,158.1 L237.7,158.9 L238.7,159.6 L239.6,160.2 L240.4,160.8 L241.2,161.4 L242.0,162.0 L242.7,162.5 L243.5,163.0 L244.2,163.6 L245.0,164.2 L245.8,164.8 L246.6,165.4 L247.5,165.9 L248.3,166.5 L249.1,167.1 L250.0,167.8 L250.8,168.5 L251.7,169.3 L252.6,170.2 L253.5,171.2 L254.4,172.3 L255.3,173.4 L256.3,174.6 L257.1,175.7 L258.0,176.8 L258.7,177.8 L259.4,178.8 L260.0,179.7 L260.6,180.6 L261.1,181.4 L261.6,182.3 L262.1,183.2 L262.5,184.1 L263.0,185.0 L263.4,186.0 L263.9,186.9 L264.3,187.9 L264.6,188.9 L265.0,190.0 L265.4,191.0 L265.7,192.0 L266.0,193.0 L266.3,194.0 L266.6,195.0 L266.9,196.0 L267.2,197.1 L267.4,198.1 L267.6,199.1 L267.8,200.0 L268.0,201.0 L268.1,201.9 L268.3,202.8 L268.4,203.7 L268.4,204.6 L268.5,205.4 L268.5,206.3 L268.5,207.1 L268.5,208.0 L268.5,208.9 L268.4,209.8 L268.3,210.6 L268.2,211.5 L268.1,212.4 L267.9,213.3 L267.7,214.1 L267.5,215.0 L267.2,215.8 L267.0,216.7 L266.7,217.5 L266.4,218.3 L266.0,219.1 L265.6,219.9 L265.1,220.7 L264.5,221.5 L263.8,222.3 L263.1,223.1 L262.4,223.9 L261.5,224.6 L260.6,225.4 L259.7,226.1 L258.6,226.7 L257.5,227.3 L256.3,227.8 L254.9,228.2 L253.5,228.6 L251.9,229.0 L250.4,229.3 L248.9,229.6 L247.4,229.8 L246.0,230.0 L244.7,230.2 L243.3,230.3 L242.0,230.4 L240.8,230.4 L239.5,230.4 L238.3,230.4 L237.1,230.4 L236.0,230.3 L234.9,230.2 L233.9,230.2 L232.9,230.0 L231.9,229.9 L231.0,229.8 L230.1,229.6 L229.3,229.3 L228.5,229.0 L227.8,228.6 L227.1,228.2 L226.5,227.7 L225.9,227.2 L225.4,226.7 L224.9,226.1 L224.4,225.6 L224.0,225.0 L223.6,224.4 L223.2,223.8 L222.9,223.2 L222.6,222.6 L222.3,222.0 L222.1,221.3 L221.9,220.7 L221.7,220.0 L221.5,219.3 L221.3,218.6 L221.2,217.8 L221.1,217.0 L221.0,216.3 L220.9,215.5 L220.9,214.7 L221.0,214.0 L221.1,213.3 L221.2,212.5 L221.4,211.8 L221.6,211.1 L221.9,210.4 L222.2,209.7 L222.6,209.1 L223.0,208.5 L223.5,207.9 L224.0,207.4 L224.6,206.9 L225.2,206.5 L225.8,206.0 L226.5,205.6 L227.3,205.2 L228.0,204.8 L228.8,204.4 L229.6,204.0 L230.4,203.6 L231.3,203.2 L232.2,202.8 L233.1,202.5 L234.1,202.2 L235.0,202.0 L236.0,201.8 L237.0,201.7 L238.0,201.6 L239.1,201.5 L240.1,201.4 L241.1,201.4 L242.1,201.5 L243.0,201.5 L243.8,201.6 L244.7,201.7 L245.4,201.8 L246.2,202.0 L246.9,202.2 L247.6,202.4 L248.3,202.7 L249.0,203.0 L249.7,203.4 L250.5,203.8 L251.2,204.2 L252.0,204.7 L252.7,205.2 L253.4,205.7 L254.0,206.3 L254.5,207.0 L255.0,207.7 L255.4,208.5 L255.7,209.4 L256.0,210.3 L256.2,211.2 L256.4,212.2 L256.6,213.1 L256.7,214.0 L256.7,214.9 L256.7,215.9 L256.6,216.9 L256.5,217.9 L256.3,218.9 L256.2,219.7 L256.1,220.5 L256.0,221.0" fill="none" stroke="#1fc487" stroke-width="1.3" stroke-linejoin="round" stroke-linecap="round"/><path d="M71.0,223.0 L71.0,222.3 L71.0,221.4 L70.9,220.2 L70.9,219.0 L70.9,217.7 L70.9,216.4 L70.9,215.1 L70.9,214.0 L70.9,213.0 L70.9,212.0 L70.9,211.0 L71.0,210.1 L71.0,209.1 L71.1,208.1 L71.2,207.1 L71.3,206.0 L71.5,204.8 L71.6,203.6 L71.9,202.4 L72.1,201.1 L72.3,199.8 L72.6,198.5 L72.9,197.2 L73.2,196.0 L73.5,194.8 L73.9,193.5 L74.2,192.2 L74.6,191.0 L75.0,189.7 L75.4,188.6 L75.8,187.5 L76.2,186.5 L76.6,185.6 L77.0,184.8 L77.4,184.1 L77.8,183.5 L78.2,182.9 L78.6,182.3 L79.1,181.8 L79.5,181.3 L79.9,180.8 L80.4,180.4 L80.8,180.0 L81.3,179.7 L81.8,179.4 L82.3,179.0 L82.8,178.7 L83.3,178.3 L83.8,177.9 L84.4,177.4 L85.0,176.9 L85.6,176.4 L86.2,176.0 L86.8,175.5 L87.4,175.0 L88.0,174.6 L88.6,174.2 L89.1,173.8 L89.6,173.5 L90.1,173.1 L90.7,172.8 L91.2,172.4 L91.8,172.1 L92.5,171.7 L93.2,171.3 L93.8,171.0 L94.5,170.7 L95.2,170.3 L95.9,169.9 L96.8,169.5 L97.8,168.9 L99.0,168.3 L100.4,167.5 L102.0,166.7 L103.7,165.7 L105.5,164.7 L107.4,163.6 L109.3,162.6 L111.2,161.6 L113.0,160.6 L114.7,159.7 L116.4,158.7 L118.1,157.7 L119.8,156.8 L121.5,155.9 L123.2,155.1 L125.1,154.3 L127.0,153.6 L129.0,153.0 L131.2,152.5 L133.4,152.1 L135.6,151.7 L137.9,151.4 L140.3,151.1 L142.6,150.9 L145.0,150.6 L147.4,150.3 L149.9,150.1 L152.3,149.8 L154.9,149.6 L157.4,149.4 L160.0,149.3 L162.6,149.3 L165.2,149.4 L167.9,149.6 L170.7,149.9 L173.6,150.3 L176.5,150.8 L179.4,151.3 L182.1,151.8 L184.7,152.3 L187.0,152.8 L189.0,153.2 L190.8,153.6 L192.4,153.9 L193.9,154.3 L195.4,154.7 L196.8,155.1 L198.3,155.7 L200.0,156.3 L201.8,157.0 L203.6,157.8 L205.5,158.6 L207.4,159.6 L209.4,160.5 L211.3,161.6 L213.2,162.8 L215.0,164.0 L216.8,165.4 L218.7,166.9 L220.6,168.5 L222.4,170.2 L224.2,171.9 L225.9,173.6 L227.5,175.3 L229.0,177.0 L230.3,178.6 L231.5,180.3 L232.6,182.0 L233.6,183.7 L234.5,185.3 L235.4,187.0 L236.2,188.5 L237.0,190.0 L237.8,191.4 L238.5,192.8 L239.1,194.1 L239.7,195.4 L240.2,196.6 L240.7,197.8 L241.1,198.9 L241.5,200.0 L241.8,201.0 L242.0,201.9 L242.1,202.8 L242.2,203.6 L242.3,204.4 L242.3,205.2 L242.3,206.1 L242.3,207.0 L242.3,208.0 L242.3,209.0 L242.2,210.0 L242.2,211.0 L242.1,212.1 L241.9,213.1 L241.7,214.1 L241.5,215.0 L241.2,215.9 L240.9,216.8 L240.5,217.6 L240.1,218.4 L239.7,219.2 L239.1,219.9 L238.6,220.6 L238.0,221.3 L237.3,221.9 L236.6,222.5 L235.9,223.0 L235.1,223.5 L234.2,223.9 L233.3,224.3 L232.4,224.7 L231.5,225.0 L230.5,225.3 L229.5,225.5 L228.4,225.7 L227.3,225.9 L226.2,226.0 L225.1,226.0 L224.0,226.0 L223.0,226.0 L222.0,225.9 L221.0,225.8 L220.0,225.6 L219.0,225.3 L218.1,225.1 L217.2,224.7 L216.3,224.4 L215.5,224.0 L214.7,223.6 L214.0,223.1 L213.2,222.5 L212.5,221.9 L211.9,221.3 L211.3,220.7 L210.9,220.1 L210.5,219.5 L210.2,218.9 L210.1,218.3 L210.0,217.6 L210.0,217.0 L210.0,216.3 L210.1,215.7 L210.3,215.1 L210.5,214.5 L210.8,213.9 L211.1,213.4 L211.5,212.9 L211.9,212.3 L212.4,211.8 L212.9,211.4 L213.4,210.9 L214.0,210.5 L214.6,210.1 L215.2,209.7 L215.8,209.4 L216.5,209.0 L217.2,208.7 L217.9,208.4 L218.7,208.2 L219.5,208.0 L220.4,207.9 L221.3,207.7 L222.2,207.7 L223.2,207.6 L224.2,207.6 L225.2,207.7 L226.1,207.7 L227.0,207.8 L227.8,207.9 L228.7,208.1 L229.5,208.2 L230.2,208.5 L231.0,208.7 L231.7,208.9 L232.4,209.2 L233.0,209.5 L233.6,209.8 L234.1,210.2 L234.6,210.7 L235.1,211.1 L235.6,211.5 L235.9,211.9 L236.2,212.3 L236.5,212.5" fill="none" stroke="#e99af4" stroke-width="1.3" stroke-linejoin="round" stroke-linecap="round"/></g>
<g><rect x="35.8" y="5.55" width="315" height="253.25" fill="none" stroke="#1a1a1a" stroke-width="1.5"/><line x1="64.2" y1="258.8" x2="64.2" y2="254.2" stroke="#1a1a1a" stroke-width="1.3"/><line x1="121.5" y1="258.8" x2="121.5" y2="254.2" stroke="#1a1a1a" stroke-width="1.3"/><line x1="178.7" y1="258.8" x2="178.7" y2="254.2" stroke="#1a1a1a" stroke-width="1.3"/><line x1="235.9" y1="258.8" x2="235.9" y2="254.2" stroke="#1a1a1a" stroke-width="1.3"/><line x1="293.2" y1="258.8" x2="293.2" y2="254.2" stroke="#1a1a1a" stroke-width="1.3"/><line x1="92.8" y1="258.8" x2="92.8" y2="256.3" stroke="#1a1a1a" stroke-width="1.3"/><line x1="150.1" y1="258.8" x2="150.1" y2="256.3" stroke="#1a1a1a" stroke-width="1.3"/><line x1="207.3" y1="258.8" x2="207.3" y2="256.3" stroke="#1a1a1a" stroke-width="1.3"/><line x1="264.6" y1="258.8" x2="264.6" y2="256.3" stroke="#1a1a1a" stroke-width="1.3"/><line x1="321.8" y1="258.8" x2="321.8" y2="256.3" stroke="#1a1a1a" stroke-width="1.3"/><line x1="35.8" y1="216.9" x2="40.5" y2="216.9" stroke="#1a1a1a" stroke-width="1.3"/><line x1="35.8" y1="174.5" x2="40.5" y2="174.5" stroke="#1a1a1a" stroke-width="1.3"/><line x1="35.8" y1="132.1" x2="40.5" y2="132.1" stroke="#1a1a1a" stroke-width="1.3"/><line x1="35.8" y1="89.7" x2="40.5" y2="89.7" stroke="#1a1a1a" stroke-width="1.3"/><line x1="35.8" y1="47.3" x2="40.5" y2="47.3" stroke="#1a1a1a" stroke-width="1.3"/><line x1="35.8" y1="238.1" x2="38.4" y2="238.1" stroke="#1a1a1a" stroke-width="1.3"/><line x1="35.8" y1="195.7" x2="38.4" y2="195.7" stroke="#1a1a1a" stroke-width="1.3"/><line x1="35.8" y1="153.3" x2="38.4" y2="153.3" stroke="#1a1a1a" stroke-width="1.3"/><line x1="35.8" y1="110.9" x2="38.4" y2="110.9" stroke="#1a1a1a" stroke-width="1.3"/><line x1="35.8" y1="68.5" x2="38.4" y2="68.5" stroke="#1a1a1a" stroke-width="1.3"/><line x1="35.8" y1="26.1" x2="38.4" y2="26.1" stroke="#1a1a1a" stroke-width="1.3"/><text x="64.2" y="273.6" text-anchor="middle" font-family="Liberation Serif, serif" font-weight="bold" font-size="11" fill="#000">0</text><text x="121.5" y="273.6" text-anchor="middle" font-family="Liberation Serif, serif" font-weight="bold" font-size="11" fill="#000">5</text><text x="178.7" y="273.6" text-anchor="middle" font-family="Liberation Serif, serif" font-weight="bold" font-size="11" fill="#000">10</text><text x="235.9" y="273.6" text-anchor="middle" font-family="Liberation Serif, serif" font-weight="bold" font-size="11" fill="#000">15</text><text x="293.2" y="273.6" text-anchor="middle" font-family="Liberation Serif, serif" font-weight="bold" font-size="11" fill="#000">20</text><text x="350.4" y="273.6" text-anchor="middle" font-family="Liberation Serif, serif" font-weight="bold" font-size="11" fill="#000">25</text><text x="30.6" y="262.7" text-anchor="end" font-family="Liberation Serif, serif" font-weight="bold" font-size="11" fill="#000">-5</text><text x="30.6" y="220.3" text-anchor="end" font-family="Liberation Serif, serif" font-weight="bold" font-size="11" fill="#000">0</text><text x="30.6" y="177.9" text-anchor="end" font-family="Liberation Serif, serif" font-weight="bold" font-size="11" fill="#000">5</text><text x="30.6" y="135.5" text-anchor="end" font-family="Liberation Serif, serif" font-weight="bold" font-size="11" fill="#000">10</text><text x="30.6" y="93.1" text-anchor="end" font-family="Liberation Serif, serif" font-weight="bold" font-size="11" fill="#000">15</text><text x="30.6" y="50.7" text-anchor="end" font-family="Liberation Serif, serif" font-weight="bold" font-size="11" fill="#000">20</text><text x="30.6" y="8.3" text-anchor="end" font-family="Liberation Serif, serif" font-weight="bold" font-size="11" fill="#000">25</text><text x="156.5" y="295" font-family="Liberation Serif, serif" font-weight="bold" font-size="13" fill="#000">Z'/(ohm·cm<tspan font-size="8.5" dy="-5">2</tspan><tspan dy="5">)</tspan></text><text transform="translate(13.5,173.3) rotate(-90)" font-family="Liberation Serif, serif" font-weight="bold" font-size="13" fill="#000">-Z''/(ohm·cm<tspan font-size="8.5" dy="-5">2</tspan><tspan dy="5">)</tspan></text></g>
<g><rect x="177.4" y="10.5" width="133.3" height="86.7" fill="#fff" stroke="#7a7a7a" stroke-width="1.1"/><rect x="188.3" y="15.6" width="5.6" height="5.6" fill="#353535"/><circle cx="191.1" cy="32.5" r="3.1" fill="#fb2a30"/><path d="M191.1,43.1 L194.8,49.1 L187.4,49.1Z" fill="#1d5ee2"/><path d="M191.1,64.5 L194.8,58.5 L187.4,58.5Z" fill="#22a45e"/><path d="M191.1,71.0 L194.9,75.0 L191.1,79.0 L187.3,75.0Z" fill="#a56ee6"/><line x1="177.5" y1="90.4" x2="201" y2="90.4" stroke="#2a2a2a" stroke-width="1.0"/><text x="206.6" y="22.3" font-family="Liberation Serif, serif" font-weight="bold" font-size="11.2" fill="#000">Sintered alloy</text><text x="206.6" y="36.4" font-family="Liberation Serif, serif" font-weight="bold" font-size="11.2" fill="#000">Extruded alloy</text><text x="206.6" y="50.6" font-family="Liberation Serif, serif" font-weight="bold" font-size="11.2" fill="#000">Solution-treated alloy</text><text x="206.6" y="64.8" font-family="Liberation Serif, serif" font-weight="bold" font-size="11.2" fill="#000">Rolled alloy</text><text x="206.6" y="78.9" font-family="Liberation Serif, serif" font-weight="bold" font-size="11.2" fill="#000">Annealed alloy</text><text x="204.3" y="93.5" font-family="Liberation Serif, serif" font-weight="bold" font-size="11.2" fill="#000">Fitted results</text></g>
</svg></body></html>
